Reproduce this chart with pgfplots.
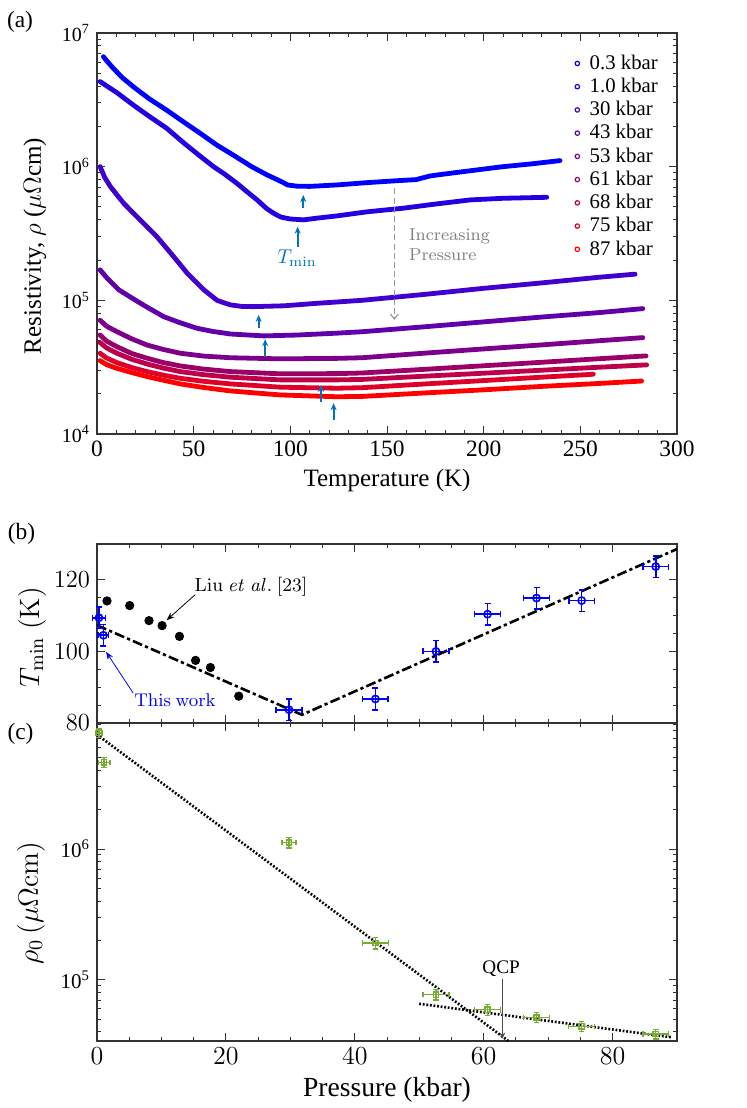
\documentclass[border=0pt]{standalone}
\usepackage{fix-cm}
\usepackage[no-math]{fontspec}
\setmainfont{Liberation Serif}
\usepackage{pgfplots}
\pgfplotsset{compat=1.18}
\usepackage{pgfplotstable}
\usetikzlibrary{arrows.meta}

\definecolor{c1}{RGB}{0,0,255}
\definecolor{c2}{RGB}{35,0,225}
\definecolor{c3}{RGB}{65,0,205}
\definecolor{c4}{RGB}{95,0,170}
\definecolor{c5}{RGB}{125,0,140}
\definecolor{c6}{RGB}{155,0,105}
\definecolor{c7}{RGB}{190,0,75}
\definecolor{c8}{RGB}{222,0,40}
\definecolor{c9}{RGB}{255,0,0}
\definecolor{tminblue}{RGB}{0,114,189}
\definecolor{mgreen}{RGB}{119,172,48}

\pgfplotstableread{
T R
3.3 6.65e6
5 6.2e6
8.4 5.45e6
13 4.65e6
18.8 3.96e6
27 3.22e6
36 2.65e6
45 2.15e6
53.3 1.78e6
62 1.45e6
70.5 1.22e6
80 1.0e6
87.8 8.7e5
94 7.9e5
96.4 7.6e5
98.5 7.3e5
103.3 7.15e5
110 7.12e5
124 7.3e5
140 7.6e5
155 7.85e5
165 8.0e5
172 8.5e5
176 8.67e5
190 9.2e5
210 1.0e6
225 1.05e6
239.5 1.11e6
}\curA
\pgfplotstableread{
T R
1.6 4.33e6
10 3.6e6
18.8 2.89e6
27 2.38e6
36 1.94e6
45 1.5e6
53.3 1.2e6
60.3 1.0e6
66 8.8e5
72.4 7.5e5
77 6.6e5
82.8 5.64e5
87.8 4.85e5
91.4 4.48e5
95 4.2e5
100 4.06e5
106.9 4.0e5
113.8 4.12e5
124 4.28e5
140 4.6e5
158.4 4.89e5
175 5.25e5
193 5.64e5
210 5.8e5
232.6 5.9e5
}\curB
\pgfplotstableread{
T R
1.6 1.0e6
4 8.3e5
6.9 7.1e5
13.8 5.32e5
22.4 3.99e5
31 2.99e5
39.7 2.12e5
46.6 1.6e5
55.2 1.2e5
62.1 1.0e5
66 9.55e4
69 9.25e4
75 9.0e4
81 8.97e4
96.6 9.1e4
113.8 9.5e4
137 1.0e5
170 1.11e5
200 1.23e5
230 1.35e5
260 1.49e5
278.3 1.57e5
}\curC
\pgfplotstableread{
T R
1.6 1.69e5
5 1.48e5
11.2 1.2e5
20 1.0e5
27 8.7e4
34.5 7.55e4
43 6.8e4
51.7 6.18e4
60 5.85e4
69 5.6e4
86.2 5.42e4
103.4 5.5e4
124 5.68e4
137 5.82e4
170 6.35e4
200 6.9e4
230 7.5e4
260 8.1e4
282.3 8.67e4
}\curD
\pgfplotstableread{
T R
1.6 7.1e4
5 6.4e4
10.3 5.83e4
18 5.15e4
25.9 4.63e4
34 4.3e4
43.1 4.02e4
55 3.83e4
69 3.72e4
94.8 3.65e4
124 3.68e4
137 3.72e4
170 4.03e4
200 4.33e4
230 4.64e4
260 4.99e4
282.3 5.26e4
}\curE
\pgfplotstableread{
T R
1.6 5.5e4
5 4.95e4
10.3 4.5e4
18 4.0e4
25.9 3.69e4
34 3.43e4
43.1 3.23e4
55 3.06e4
69 2.93e4
94.8 2.82e4
124 2.83e4
137 2.86e4
170 3.05e4
200 3.24e4
230 3.44e4
260 3.66e4
284 3.84e4
}\curF
\pgfplotstableread{
T R
1.6 4.83e4
5 4.4e4
10.3 4.02e4
18 3.62e4
25.9 3.34e4
34 3.12e4
43.1 2.93e4
55 2.78e4
69 2.66e4
94.8 2.54e4
124 2.54e4
137 2.56e4
170 2.71e4
200 2.85e4
230 3.0e4
260 3.16e4
284.3 3.29e4
}\curG
\pgfplotstableread{
T R
1.6 4.02e4
5 3.7e4
10.3 3.42e4
18 3.14e4
25.9 2.93e4
34 2.76e4
43.1 2.61e4
55 2.48e4
69 2.37e4
94.8 2.24e4
124 2.2e4
137 2.22e4
170 2.37e4
200 2.51e4
230 2.66e4
256.7 2.8e4
}\curH
\pgfplotstableread{
T R
1.6 3.54e4
5 3.3e4
10.3 3.1e4
18 2.88e4
25.9 2.69e4
34 2.53e4
43.1 2.37e4
55 2.23e4
69 2.1e4
94.8 1.96e4
124 1.9e4
137 1.91e4
170 2.03e4
200 2.14e4
230 2.27e4
260 2.39e4
281.7 2.49e4
}\curI

\pgfplotstableread{
P dP T dT
0.3 1.0 109.4 3
1.0 0.8 104.5 3
29.8 2.0 83.7 3
43.2 2.0 86.7 3
52.6 2.0 100.0 3
60.6 2.0 110.4 3
68.2 2.0 114.9 3
75.2 2.0 114.2 3
86.7 2.0 123.7 3
}\tmin
\pgfplotstableread{
P T
1.55 114.1
5.07 112.8
8.07 108.6
10.1 107.2
12.8 104.2
15.3 97.5
17.6 95.5
22.0 87.5
}\liu
\pgfplotstableread{
P dP R dR
0.3 0.5 7.7e6 0.6e6
1.1 0.9 4.6e6 0.4e6
29.8 1.1 1.12e6 0.1e6
43.2 2.0 1.91e5 0.19e5
52.6 2.0 7.7e4 0.7e4
60.6 2.0 5.9e4 0.55e4
68.2 2.0 5.15e4 0.45e4
75.2 2.0 4.4e4 0.4e4
86.7 2.0 3.85e4 0.33e4
}\rhozero

\pgfplotsset{
  every axis/.append style={
    scale only axis,
    axis line style={black!80, line width=0.6pt},
    tick style={black!80, line width=0.5pt},
    tick align=inside,
    major tick length=4pt,
    minor tick length=2.2pt,
    clip=false,
  },
}

\begin{document}
\begin{tikzpicture}
\useasboundingbox (0,0) rectangle (373.5pt,-554pt);

% ---------------- panel (a)
\begin{axis}[
  at={(48.5pt,-217pt)}, anchor=south west,
  width=290pt, height=200.5pt,
  xmin=0, xmax=300, ymin=1e4, ymax=1e7, ymode=log,
  xtick={0,50,...,300}, minor x tick num=4,
  ytick={1e4,1e5,1e6,1e7},
  yticklabels={10\textsuperscript{4},10\textsuperscript{5},10\textsuperscript{6},10\textsuperscript{7}},
  minor ytick={2e4,3e4,4e4,5e4,6e4,7e4,8e4,9e4,2e5,3e5,4e5,5e5,6e5,7e5,8e5,9e5,2e6,3e6,4e6,5e6,6e6,7e6,8e6,9e6},
  xticklabel style={font=\fontsize{11.7}{13}\selectfont, /pgf/number format/assume math mode=true},
  yticklabel style={font=\fontsize{10}{12}\selectfont},
  xlabel={Temperature (K)},
  ylabel={Resistivity, $\rho$ ($\mu\Omega$cm)},
  xlabel style={font=\fontsize{12.5}{14}\selectfont, at={(axis description cs:0.5,-0.117)}, anchor=center},
  ylabel style={font=\fontsize{12.5}{14}\selectfont, at={(axis description cs:-0.107,0.469)}, anchor=center},
  legend image code/.code={\path[draw=none,fill=none] (-1.2pt,-0.1pt) rectangle (4.2pt,0.1pt);
    \draw[mark=o, mark size=1.1pt, line width=0.6pt, draw=none, mark options={draw=.}] plot coordinates {(0pt,0pt)};},
  legend style={draw=none, fill=none, at={(axis description cs:0.813,0.6923)}, anchor=west,
    font=\fontsize{10.4}{12}\selectfont, nodes={font=\fontsize{10.4}{12}\selectfont}, row sep=-1.1pt},
  legend cell align=left,
]
\addplot[c1, line width=2.4pt, line join=round, line cap=round, forget plot] table[x=T,y=R] {\curA};
\addplot[c2, line width=2.4pt, line join=round, line cap=round, forget plot] table[x=T,y=R] {\curB};
\addplot[c3, line width=2.4pt, line join=round, line cap=round, forget plot] table[x=T,y=R] {\curC};
\addplot[c4, line width=2.4pt, line join=round, line cap=round, forget plot] table[x=T,y=R] {\curD};
\addplot[c5, line width=2.4pt, line join=round, line cap=round, forget plot] table[x=T,y=R] {\curE};
\addplot[c6, line width=2.4pt, line join=round, line cap=round, forget plot] table[x=T,y=R] {\curF};
\addplot[c7, line width=2.4pt, line join=round, line cap=round, forget plot] table[x=T,y=R] {\curG};
\addplot[c8, line width=2.4pt, line join=round, line cap=round, forget plot] table[x=T,y=R] {\curH};
\addplot[c9, line width=2.4pt, line join=round, line cap=round, forget plot] table[x=T,y=R] {\curI};
\addlegendimage{c1}\addlegendentry{0.3 kbar}
\addlegendimage{c2}\addlegendentry{1.0 kbar}
\addlegendimage{c3}\addlegendentry{30 kbar}
\addlegendimage{c4}\addlegendentry{43 kbar}
\addlegendimage{c5}\addlegendentry{53 kbar}
\addlegendimage{c6}\addlegendentry{61 kbar}
\addlegendimage{c7}\addlegendentry{68 kbar}
\addlegendimage{c8}\addlegendentry{75 kbar}
\addlegendimage{c9}\addlegendentry{87 kbar}
% T_min arrows
\begin{scope}[tminblue, line width=0.9pt, -{Stealth[length=3.5pt,width=3pt]}]
\draw (axis cs:106.7,4.91e5) -- (axis cs:106.7,6.14e5);
\draw (axis cs:103.8,2.52e5) -- (axis cs:103.8,3.56e5);
\draw (axis cs:83.6,6.18e4) -- (axis cs:83.6,7.78e4);
\draw (axis cs:87.0,3.79e4) -- (axis cs:87.0,5.12e4);
\draw (axis cs:115.9,1.75e4) -- (axis cs:115.9,2.33e4);
\draw (axis cs:122.4,1.27e4) -- (axis cs:122.4,1.70e4);
\end{scope}
\node[tminblue, font=\fontsize{10}{12}\selectfont] at (axis cs:103.5,2.08e5) {$T_{\mathrm{min}}$};
\draw[black!40, line width=0.6pt, dash pattern=on 3pt off 1.6pt, -{Straight Barb[length=2.5pt,width=4pt]}]
  (axis cs:153.8,6.88e5) -- (axis cs:153.8,7.13e4);
\node[black!50, anchor=west, align=left, font=\fontsize{8.6}{10}\selectfont] at (axis cs:157.8,2.6e5)
  {$\mathrm{Increasing}$\\$\mathrm{Pressure}$};
\end{axis}

% ---------------- panel (b)
\begin{axis}[
  at={(48.5pt,-361.5pt)}, anchor=south west,
  width=290pt, height=89.5pt,
  xmin=0, xmax=90, ymin=80, ymax=130,
  xtick={0,20,...,80}, xticklabels={}, minor x tick num=3,
  ytick={80,100,120}, minor y tick num=3,
  yticklabel style={font=\fontsize{12.3}{13}\selectfont},
  ylabel={$T_{\mathrm{min}}\ (\mathrm{K})$},
  ylabel style={font=\fontsize{14}{16}\selectfont, at={(axis description cs:-0.112,0.478)}, anchor=center},
]
\addplot[black, line width=1.3pt, dash pattern=on 5pt off 1.6pt on 1.6pt off 1.6pt] coordinates {(0,107.3) (31.8,82.3) (90,128.6)};
\addplot[only marks, mark=*, mark size=2.1pt, black] table[x=P,y=T] {\liu};
\addplot[only marks, mark=o, mark size=1.8pt, c1, line width=0.8pt,
  error bars/.cd, x dir=both, x explicit, y dir=both, y explicit,
  error bar style={line width=0.8pt, c1},
  error mark options={rotate=90, mark size=1.5pt, line width=0.8pt, c1}]
  table[x=P, y=T, x error=dP, y error=dT] {\tmin};
\node[font=\fontsize{9.5}{11}\selectfont] at (axis cs:23.9,118.2) {$\mathrm{Liu}\ \mathit{et\ al.}\ [23]$};
\draw[black, line width=0.4pt, -{Stealth[length=4pt,width=3pt]}] (axis cs:15.2,115.8) -- (axis cs:10.8,108.7);
\node[c1, font=\fontsize{9.2}{11}\selectfont] at (axis cs:12.1,86.5) {$\mathrm{This\ work}$};
\draw[c1, line width=0.4pt, -{Stealth[length=4pt,width=3pt]}] (axis cs:5.6,88.4) -- (axis cs:1.4,99.9);
\end{axis}

% ---------------- panel (c)
\begin{axis}[
  at={(48.5pt,-520.5pt)}, anchor=south west,
  width=290pt, height=159pt,
  xmin=0, xmax=90, ymin=3.4e4, ymax=9.2e6, ymode=log,
  xtick={0,20,...,80}, minor x tick num=3,
  ytick={1e5,1e6},
  yticklabels={10\textsuperscript{5},10\textsuperscript{6}},
  minor ytick={4e4,5e4,6e4,7e4,8e4,9e4,2e5,3e5,4e5,5e5,6e5,7e5,8e5,9e5,2e6,3e6,4e6,5e6,6e6,7e6,8e6,9e6},
  xticklabel style={font=\fontsize{13}{14}\selectfont},
  yticklabel style={font=\fontsize{10.5}{12}\selectfont},
  xlabel={Pressure (kbar)},
  ylabel={$\rho_0\,(\mu\Omega\mathrm{cm})$},
  xlabel style={font=\fontsize{13.8}{15}\selectfont, at={(axis description cs:0.5,-0.154)}, anchor=center},
  ylabel style={font=\fontsize{14}{16}\selectfont, at={(axis description cs:-0.114,0.434)}, anchor=center},
]
\addplot[black, line width=1.3pt, dash pattern=on 0.9pt off 0.9pt] coordinates {(0,7.5e6) (63.8,3.41e4)};
\addplot[black, line width=1.3pt, dash pattern=on 0.9pt off 0.9pt] coordinates {(50,6.55e4) (89.3,3.62e4)};
\addplot[only marks, mark=square, mark size=1.3pt, mgreen, line width=0.7pt,
  error bars/.cd, x dir=both, x explicit, y dir=both, y explicit,
  error bar style={line width=0.7pt, mgreen},
  error mark options={rotate=90, mark size=1.4pt, line width=0.7pt, mgreen}]
  table[x=P, y=R, x error=dP, y error=dR] {\rhozero};
\node[font=\fontsize{9.6}{11}\selectfont] at (axis cs:62.7,1.21e5) {QCP};
\draw[black!70, line width=0.4pt, -{Stealth[length=3pt,width=3pt]}] (axis cs:62.9,1.01e5) -- (axis cs:62.9,3.55e4);
\end{axis}

\node[font=\fontsize{11.7}{13}\selectfont] at (10pt,-10.75pt) {(a)};
\node[font=\fontsize{11.7}{13}\selectfont] at (10.75pt,-267pt) {(b)};
\node[font=\fontsize{11.7}{13}\selectfont] at (10.25pt,-366.75pt) {(c)};
\end{tikzpicture}
\end{document}
